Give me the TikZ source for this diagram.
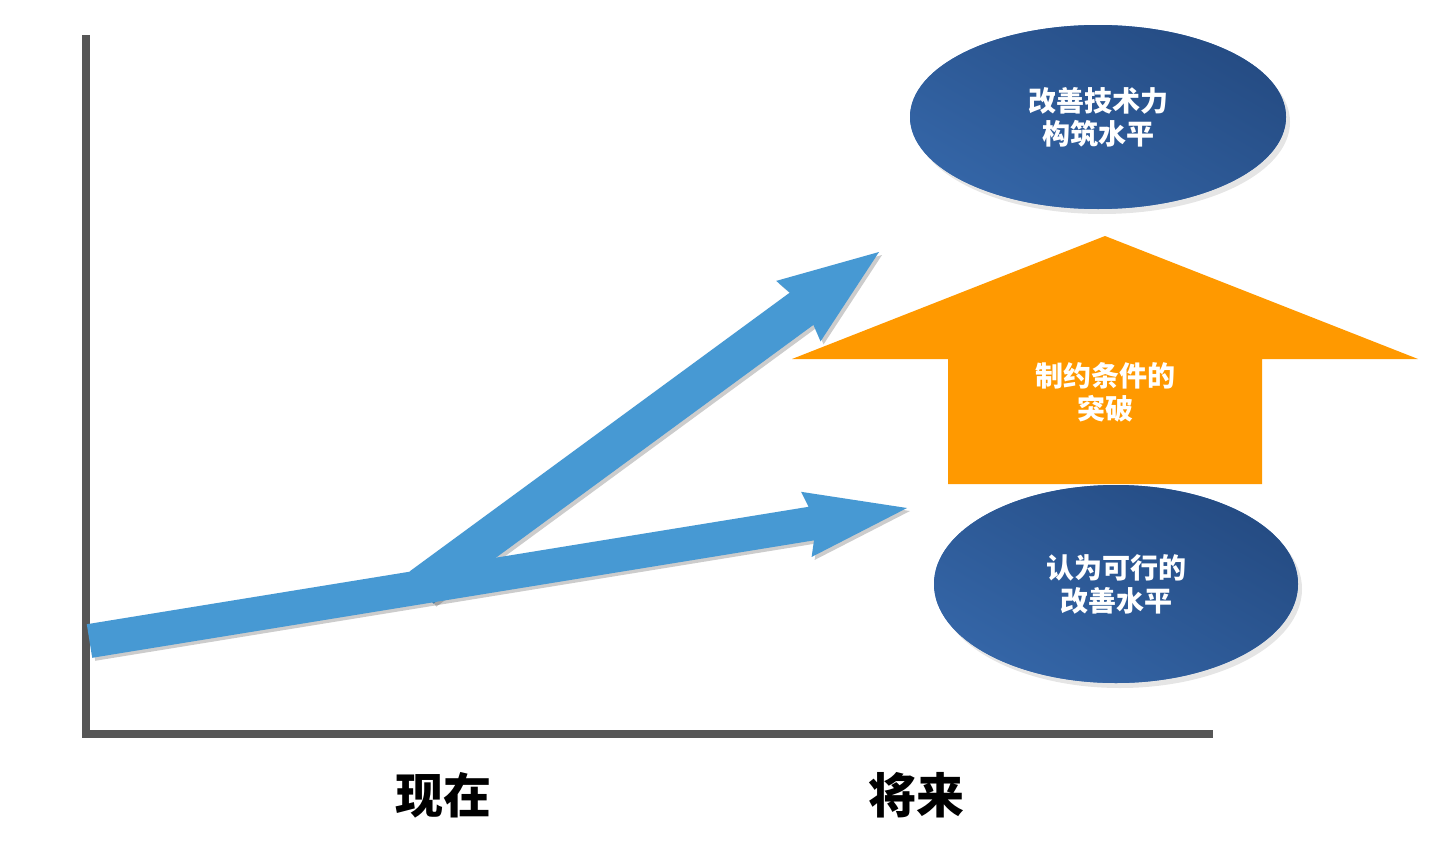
\documentclass[tikz,border=0pt]{standalone}
\usepackage{fontspec}
\newfontfamily\cjk{Noto Sans CJK SC}
\usetikzlibrary{calc,shapes.geometric,shadows}
\definecolor{axisgray}{HTML}{565656}
\definecolor{arrfill}{HTML}{4799D3}
\definecolor{orng}{HTML}{FF9900}
\definecolor{elldark}{HTML}{21457A}
\definecolor{elllight}{HTML}{386CB0}
\begin{document}
\begin{tikzpicture}[x=1pt,y=-1pt,
  axisline/.style={draw=axisgray,line width=8pt},
  bluearrow/.style={fill=arrfill,draw=none,
    drop shadow={shadow xshift=3pt,shadow yshift=-3pt,fill=black,opacity=0.2}},
  bubble/.style={ellipse,draw=none,fill=elllight,inner sep=0pt,
    drop shadow={shadow xshift=4pt,shadow yshift=-5pt,fill=black,opacity=0.1},
    path picture={\shade[top color=elldark,bottom color=elllight,shading angle=-30]
      (path picture bounding box.center) circle[radius=195pt];}},
  whitetext/.style={text=white,font=\cjk\bfseries\fontsize{28}{33}\selectfont,align=center},
  axislabel/.style={text=black,font=\cjk\bfseries\fontsize{48}{52}\selectfont}]
\useasboundingbox (0,0) rectangle (1442,862);
\fill[white] (0,0) rectangle (1442,862);
% axes
\coordinate (ytop) at (86,35);
\coordinate (origin) at (86,734);
\coordinate (xend) at (1213,734);
\draw[axisline] (ytop) -- (origin) -- (xend);
% upper blue arrow
\coordinate (us) at (421.5,587.5);
\coordinate (up) at (879,252);
\coordinate (un) at ($(up)!96pt!(us)$);
\coordinate (ub) at ($(up)!100pt!(us)$);
\path[bluearrow]
  ($(us)!20pt!90:(up)$) -- ($(un)!20pt!90:(up)$) -- ($(ub)!37.5pt!90:(up)$) -- (up)
  -- ($(ub)!37.5pt!-90:(up)$) -- ($(un)!20pt!-90:(up)$) -- ($(us)!20pt!-90:(up)$) -- cycle;
% lower blue arrow
\coordinate (lt) at (89.5,641);
\coordinate (lp) at (907,508);
\coordinate (ln) at ($(lp)!97pt!(lt)$);
\coordinate (lb) at ($(lp)!102pt!(lt)$);
\path[bluearrow]
  ($(lt)!17pt!90:(lp)$) -- ($(ln)!17pt!90:(lp)$) -- ($(lb)!33pt!90:(lp)$) -- (lp)
  -- ($(lb)!33pt!-90:(lp)$) -- ($(ln)!17pt!-90:(lp)$) -- ($(lt)!17pt!-90:(lp)$) -- cycle;
% orange block arrow
\fill[orng] (948,484) -- (948,359) -- (792,359) -- (1105,236) -- (1418,359) -- (1262,359) -- (1262,484) -- cycle;
\node[whitetext] (brk) at (1105,392) {制约条件的\\突破};
% ellipses
\node[bubble,whitetext,minimum width=376pt,minimum height=184pt] (goal) at (1098,117) {改善技术力\\构筑水平};
\node[bubble,whitetext,minimum width=364pt,minimum height=198pt] (feasible) at (1116,584) {认为可行的\\改善水平};
% axis labels
\node[axislabel] (now) at (443,795) {现在};
\node[axislabel] (future) at (916,795) {将来};
\end{tikzpicture}
\end{document}
